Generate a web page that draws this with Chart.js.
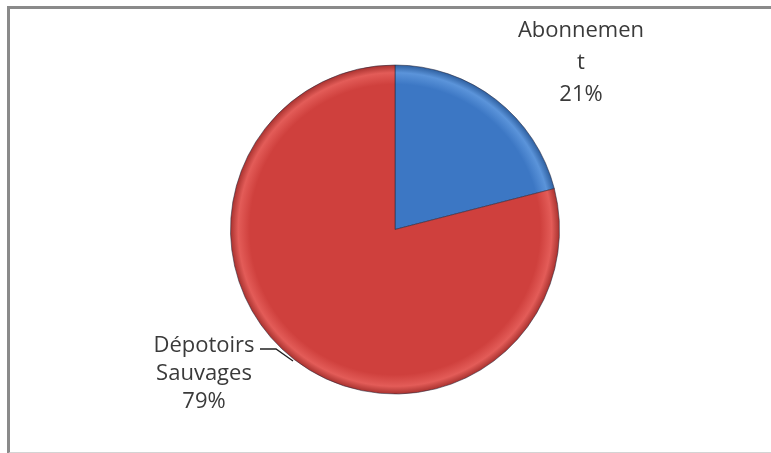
<!DOCTYPE html>
<html>
<head>
<meta charset="utf-8">
<script src="https://cdn.jsdelivr.net/npm/chart.js@4/dist/chart.umd.min.js"></script>
<style>
  html, body { margin: 0; padding: 0; background: #fff; }
  .frame {
    position: absolute; left: 7px; top: 6px; width: 780px; height: 443px;
    border-left: 3px solid #8a8a8a; border-top: 3px solid #8a8a8a;
    border-bottom: 2px solid #d4d4d4;
  }
  .wrap { position: absolute; left: 0; top: 0; width: 771px; height: 453px; }
</style>
</head>
<body>
<div class="frame"></div>
<div class="wrap"><canvas id="pie" width="771" height="453"></canvas></div>
<script>
const categories = ['Abonnement', 'Dépotoirs Sauvages'];
const values = [21, 79];
const labelLines = [['Abonnemen', 't', '21%'], ['Dépotoirs', 'Sauvages', '79%']];
const colors = ['#3c77c4', '#cf403d'];
const rimLight = ['#5b94da', '#e35c58'];
const rimDark = ['#2b5c9c', '#a52f2c'];

// radial gradients once the pie area is known: lighter rim, darker outer edge
const bevelPlugin = {
  id: 'bevel',
  afterLayout(chart) {
    const a = chart.chartArea;
    const cx = (a.left + a.right) / 2, cy = (a.top + a.bottom) / 2;
    const r = Math.min(a.right - a.left, a.bottom - a.top) / 2;
    chart.data.datasets[0].backgroundColor = colors.map((c, i) => {
      const g = chart.ctx.createRadialGradient(cx, cy, 0, cx, cy, r);
      g.addColorStop(0, c);
      g.addColorStop(0.88, c);
      g.addColorStop(0.95, rimLight[i]);
      g.addColorStop(1, rimDark[i]);
      return g;
    });
  }
};

const labelPlugin = {
  id: 'sliceLabels',
  afterDatasetsDraw(chart) {
    const c = chart.ctx;
    const anchors = [[581, 31], [204, 346]];
    c.save();
    c.font = '22px "Open Sans"';
    c.fillStyle = '#3a3a3a';
    c.textAlign = 'center';
    c.textBaseline = 'middle';
    labelLines.forEach((lines, i) => {
      const [x, y] = anchors[i];
      lines.forEach((t, k) => c.fillText(t, x, y + k * (i === 0 ? 32 : 28)));
    });
    // leader line for the big slice
    c.strokeStyle = '#222';
    c.lineWidth = 1.3;
    c.beginPath();
    c.moveTo(260, 349);
    c.lineTo(276, 349);
    c.lineTo(293, 361);
    c.stroke();
    c.restore();
  }
};

new Chart(document.getElementById('pie').getContext('2d'), {
  type: 'pie',
  data: {
    labels: categories,
    datasets: [{
      data: values,
      backgroundColor: colors,
      borderColor: 'rgba(40,40,60,0.55)',
      borderWidth: 1
    }]
  },
  options: {
    responsive: false,
    animation: false,
    layout: { padding: { left: 230, right: 211, top: 64, bottom: 58 } },
    plugins: { legend: { display: false }, tooltip: { enabled: false } }
  },
  plugins: [bevelPlugin, labelPlugin]
});
</script>
</body>
</html>
